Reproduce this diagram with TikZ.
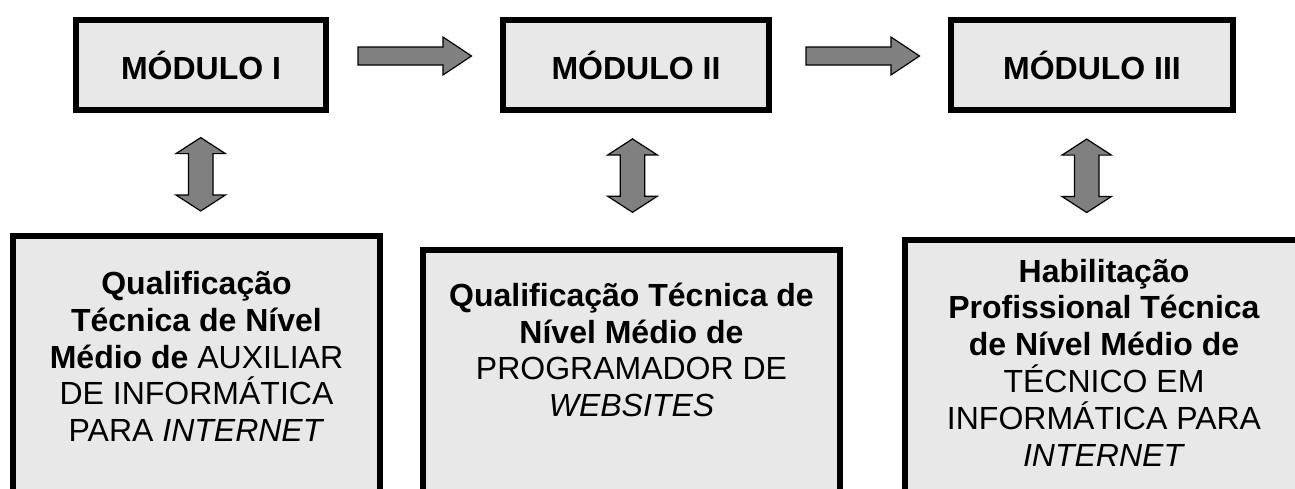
\documentclass[tikz,border=0pt]{standalone}
\usepackage{fontspec}
\setmainfont{Liberation Sans}
\usetikzlibrary{calc}
\definecolor{boxfill}{RGB}{232,232,232}
\definecolor{arrowfill}{RGB}{128,128,128}
\begin{document}
\begin{tikzpicture}[x=1pt,y=1pt,
  modbox/.style={draw=black, line width=6pt, fill=boxfill, minimum height=90pt,
    inner sep=0pt, outer sep=0pt, font=\fontsize{32}{36.8}\selectfont\bfseries},
  qualbox/.style={draw=black, line width=6pt, fill=boxfill, inner sep=0pt, outer sep=0pt},
  qualtext/.style={align=center, anchor=base, inner sep=0pt, font=\fontsize{32}{36.8}\selectfont},
  blockarrow/.style={draw=black, line width=1.2pt, fill=arrowfill, line join=miter},
  rarrow/.pic={\path[blockarrow] (0,-9) -- (85,-9) -- (85,-19) -- (113.5,0) -- (85,19) -- (85,9) -- (0,9) -- cycle;},
  varrow/.pic={\path[blockarrow] (0,36.7) -- (24.7,20.7) -- (12.3,20.7) -- (12.3,-20.7) -- (24.7,-20.7)
     -- (0,-36.7) -- (-24.7,-20.7) -- (-12.3,-20.7) -- (-12.3,20.7) -- (-24.7,20.7) -- cycle;}
]
\useasboundingbox (0,0) rectangle (1295,-488);
\clip (0,0) rectangle (1295,-488);

% module boxes
\node[modbox, minimum width=250pt] (m1) at (201,-65) {MÓDULO I};
\node[modbox, minimum width=266pt] (m2) at (636,-65) {MÓDULO II};
\node[modbox, minimum width=282pt] (m3) at (1092,-65) {MÓDULO III};

% block arrows between modules
\pic (r1) at (358,-56) {rarrow};
\pic (r2) at (806,-56) {rarrow};

% vertical double arrows
\pic (v1) at (200.7,-174.3) {varrow};
\pic (v2) at (632.5,-175.6) {varrow};
\pic (v3) at (1086.7,-175.8) {varrow};

% qualification boxes
\node[qualbox, minimum width=367pt, minimum height=264pt] (b1) at (196.5,-368) {};
\node[qualbox, minimum width=417pt, minimum height=250pt] (b2) at (631.5,-375) {};
\node[qualbox, minimum width=398pt, minimum height=260pt] (b3) at (1104,-370) {};

% texts (base anchor = baseline of the last line)
\node[qualtext] (t1) at ($(b1.north)+(0,-205.7)$)
  {\textbf{Qualificação}\\ \textbf{Técnica de Nível}\\ \textbf{Médio de} AUXILIAR\\ DE INFORMÁTICA\\ PARA \textit{INTERNET}};
\node[qualtext] (t2) at ($(b2.north)+(0,-166.7)$)
  {\textbf{Qualificação Técnica de}\\ \textbf{Nível Médio de}\\ PROGRAMADOR DE\\ \textit{WEBSITES}};
\node[qualtext] (t3) at ($(b3.north)+(0,-226)$)
  {\textbf{Habilitação}\\ \textbf{Profissional Técnica}\\ \textbf{de Nível Médio de}\\ TÉCNICO EM\\ INFORMÁTICA PARA\\ \textit{INTERNET}};
\end{tikzpicture}
\end{document}
